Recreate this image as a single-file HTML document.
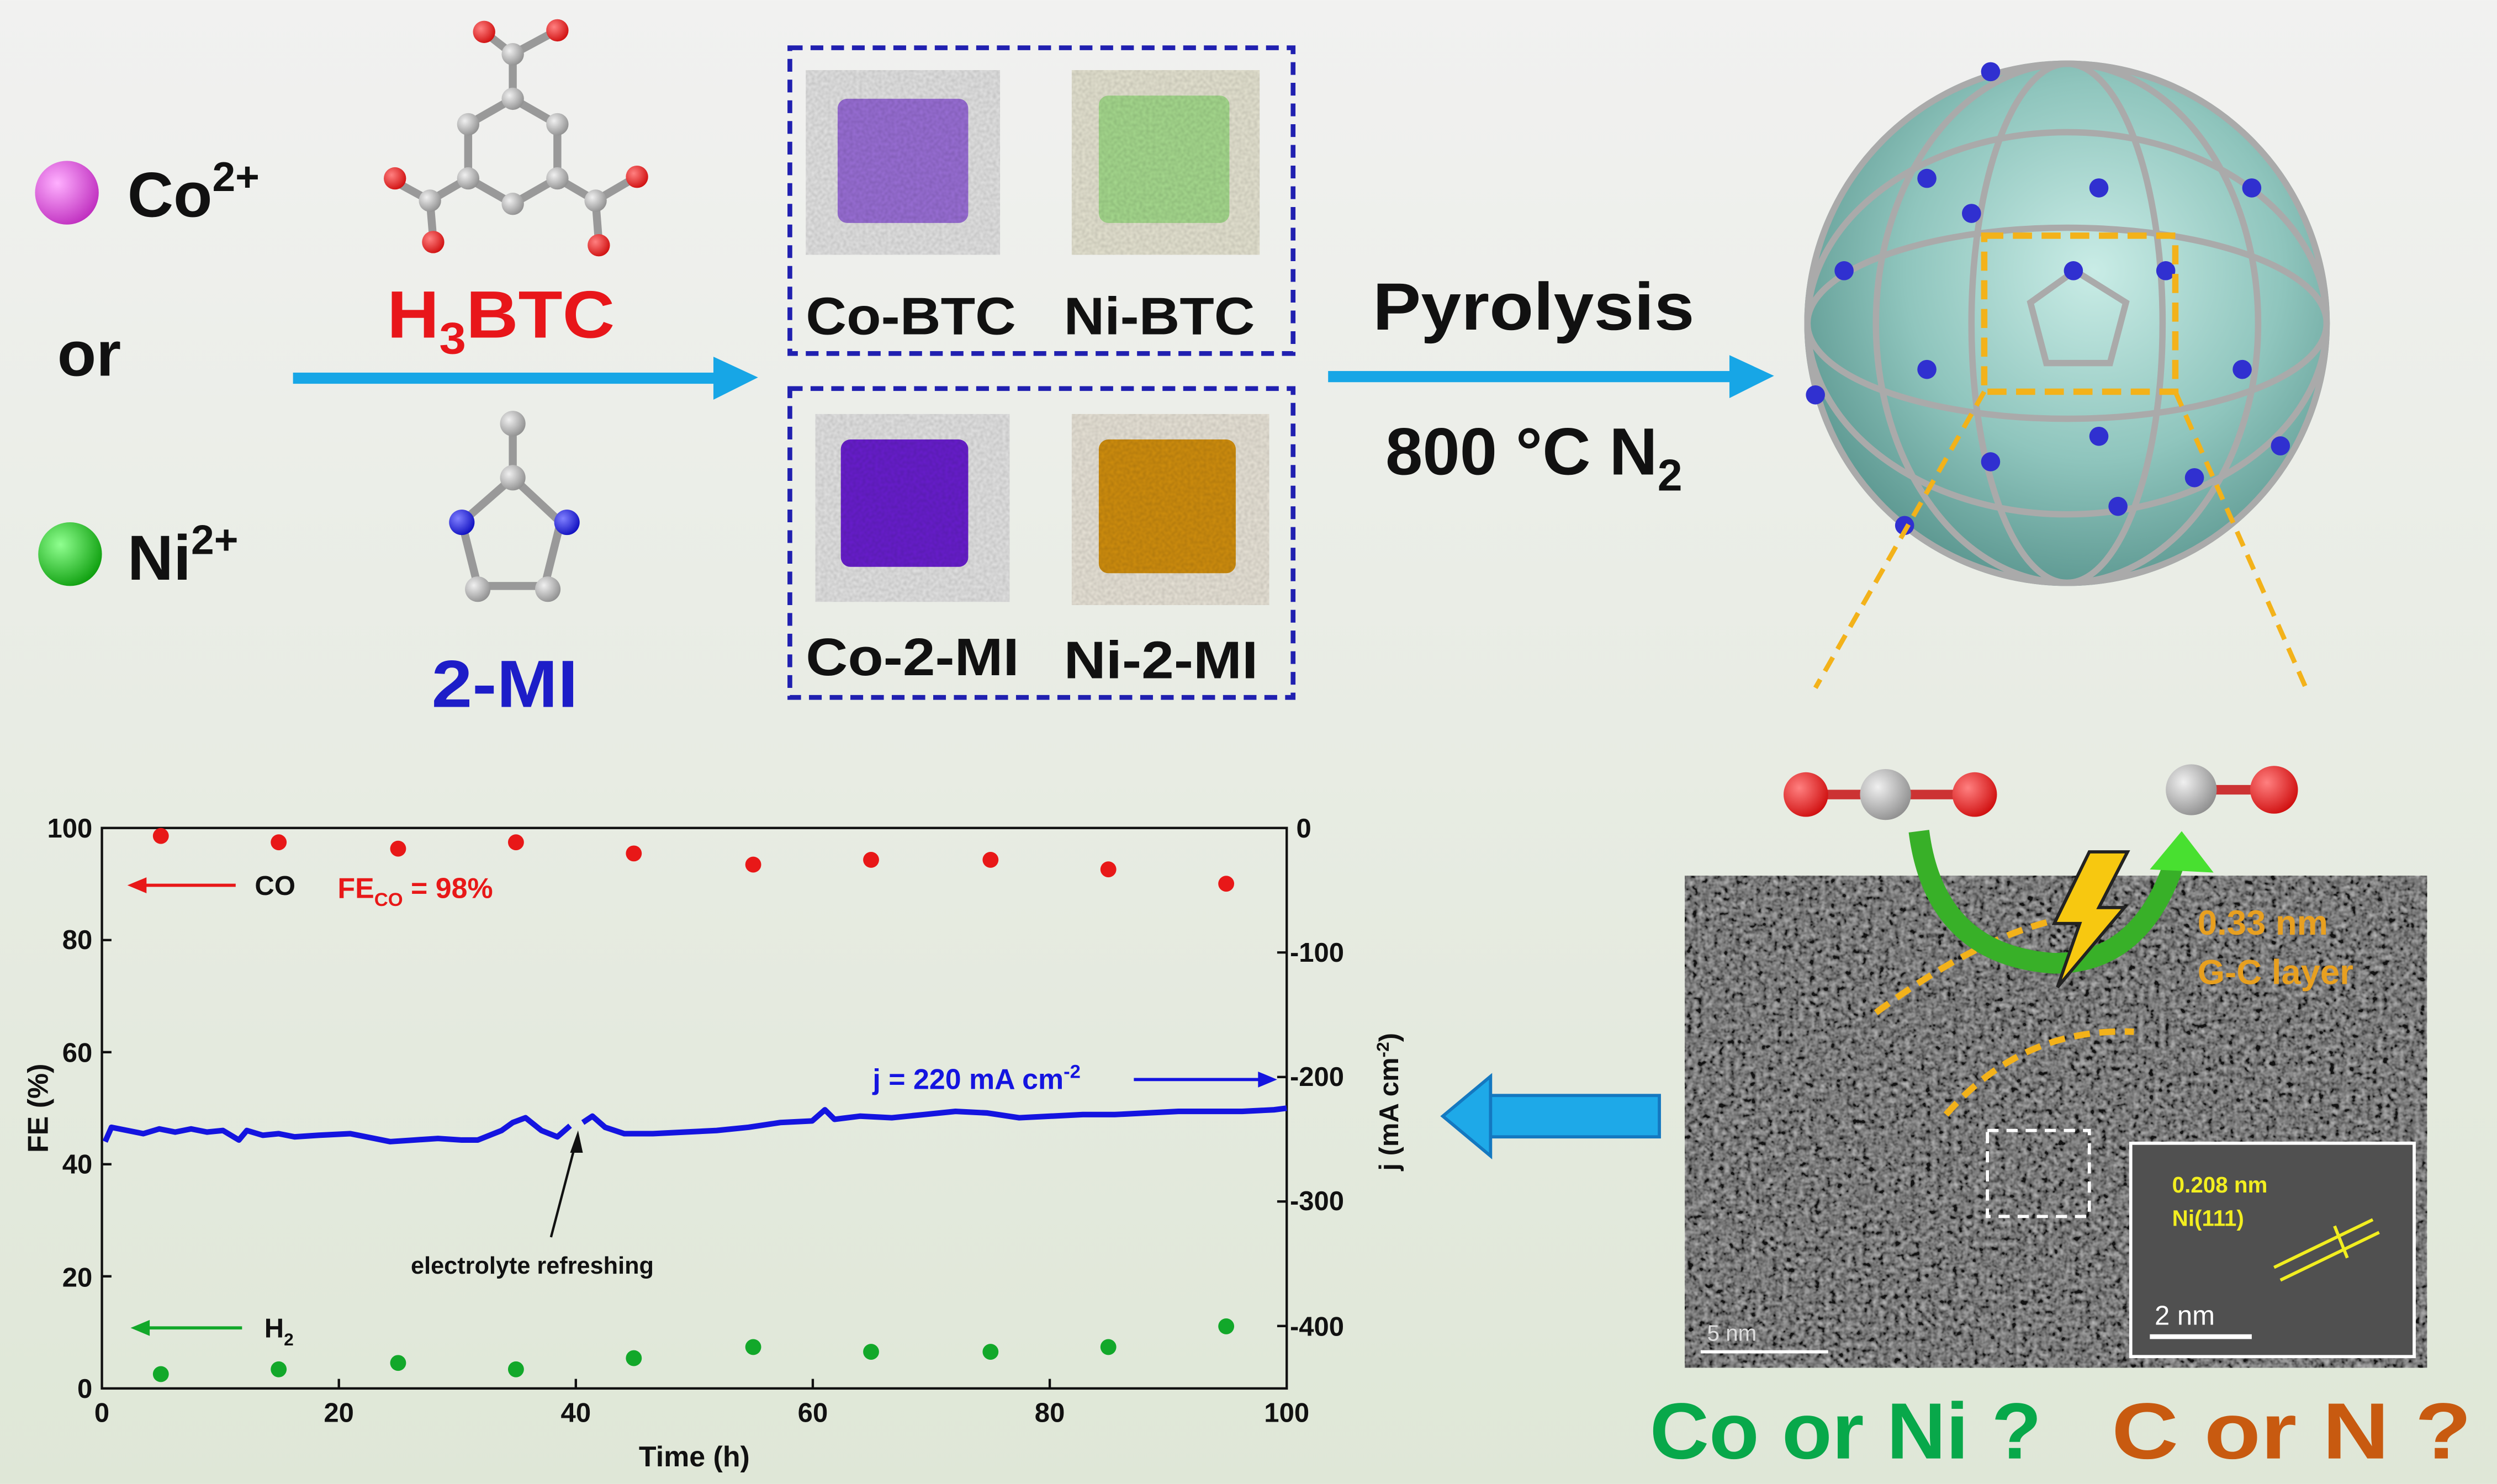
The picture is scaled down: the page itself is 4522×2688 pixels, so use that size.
<!DOCTYPE html>
<html><head><meta charset="utf-8"><style>
html,body{margin:0;padding:0;width:4522px;height:2688px;overflow:hidden}
svg{display:block}
text{font-family:"Liberation Sans",sans-serif;font-weight:bold}
</style></head><body>
<svg width="4522" height="2688" viewBox="0 0 1568 932" xmlns="http://www.w3.org/2000/svg">
<defs>
<linearGradient id="bg" x1="0" y1="0" x2="0" y2="1"><stop offset="0" stop-color="#f1f1f0"/><stop offset="1" stop-color="#dfe7d7"/></linearGradient>
<radialGradient id="sph" cx="0.55" cy="0.4" r="0.6"><stop offset="0" stop-color="#c9ece6"/><stop offset="0.6" stop-color="#8fc5bd"/><stop offset="1" stop-color="#5f9a93"/></radialGradient>
<radialGradient id="red" cx="0.35" cy="0.35" r="0.7"><stop offset="0" stop-color="#ff8080"/><stop offset="1" stop-color="#d01010"/></radialGradient>
<radialGradient id="gry" cx="0.35" cy="0.35" r="0.7"><stop offset="0" stop-color="#f0f0f0"/><stop offset="1" stop-color="#909090"/></radialGradient>
<radialGradient id="mag" cx="0.35" cy="0.35" r="0.7"><stop offset="0" stop-color="#ffb0ff"/><stop offset="1" stop-color="#c030c0"/></radialGradient>
<radialGradient id="grn" cx="0.35" cy="0.35" r="0.7"><stop offset="0" stop-color="#90ff90"/><stop offset="1" stop-color="#10a010"/></radialGradient>
<radialGradient id="blu" cx="0.35" cy="0.35" r="0.7"><stop offset="0" stop-color="#8080ff"/><stop offset="1" stop-color="#1010c0"/></radialGradient>
<filter id="noise" x="0" y="0" width="1" height="1"><feTurbulence type="fractalNoise" baseFrequency="0.3" numOctaves="2" seed="3"/><feColorMatrix type="matrix" values="0.33 0.33 0.33 0 0  0.33 0.33 0.33 0 0  0.33 0.33 0.33 0 0  0 0 0 0 1"/><feComponentTransfer><feFuncR type="linear" slope="2.4" intercept="-0.85"/><feFuncG type="linear" slope="2.4" intercept="-0.85"/><feFuncB type="linear" slope="2.4" intercept="-0.85"/></feComponentTransfer></filter>
<filter id="pn"><feTurbulence type="fractalNoise" baseFrequency="0.5" numOctaves="1" seed="5"/><feColorMatrix type="matrix" values="0 0 0 0 0 0 0 0 0 0 0 0 0 0 0 0 0 0 0.35 0"/><feComposite in2="SourceGraphic" operator="in"/><feBlend in2="SourceGraphic" mode="multiply"/></filter>
</defs>
<rect width="1568" height="932" fill="url(#bg)"/>

<circle cx="42" cy="121" r="20" fill="url(#mag)"/>
<text x="80" y="136" font-size="40" fill="#111">Co<tspan font-size="26" dy="-16">2+</tspan></text>
<text x="36" y="236" font-size="40" fill="#111">or</text>
<circle cx="44" cy="348" r="20" fill="url(#grn)"/>
<text x="80" y="364" font-size="40" fill="#111">Ni<tspan font-size="26" dy="-16">2+</tspan></text>

<g stroke="#999" stroke-width="5" fill="none">
<polygon points="322,62 350,78 350,112 322,128 294,112 294,78"/>
<line x1="322" y1="62" x2="322" y2="34"/><line x1="322" y1="34" x2="304" y2="20"/><line x1="322" y1="34" x2="348" y2="20"/>
<line x1="294" y1="112" x2="270" y2="126"/><line x1="270" y1="126" x2="248" y2="114"/><line x1="270" y1="126" x2="272" y2="150"/>
<line x1="350" y1="112" x2="374" y2="126"/><line x1="374" y1="126" x2="398" y2="112"/><line x1="374" y1="126" x2="376" y2="152"/>
</g>
<g fill="url(#gry)"><circle cx="322" cy="62" r="7"/><circle cx="350" cy="78" r="7"/><circle cx="350" cy="112" r="7"/><circle cx="322" cy="128" r="7"/><circle cx="294" cy="112" r="7"/><circle cx="294" cy="78" r="7"/><circle cx="322" cy="34" r="7"/><circle cx="270" cy="126" r="7"/><circle cx="374" cy="126" r="7"/></g>
<g fill="url(#red)"><circle cx="304" cy="20" r="7"/><circle cx="350" cy="19" r="7"/><circle cx="248" cy="112" r="7"/><circle cx="272" cy="152" r="7"/><circle cx="400" cy="111" r="7"/><circle cx="376" cy="154" r="7"/></g>
<text x="243" y="212" font-size="42" fill="#e8161a" textLength="143" lengthAdjust="spacingAndGlyphs">H<tspan font-size="28" dy="10">3</tspan><tspan dy="-10">BTC</tspan></text>
<rect x="184" y="234" width="266" height="7" fill="#17a6e6"/><polygon points="448,224 476,237 448,251" fill="#17a6e6"/>
<g stroke="#999" stroke-width="5" fill="none"><line x1="322" y1="266" x2="322" y2="300"/><polygon points="322,300 352,328 342,368 300,368 290,328"/></g>
<circle cx="322" cy="266" r="8" fill="url(#gry)"/><circle cx="322" cy="300" r="8" fill="url(#gry)"/>
<circle cx="290" cy="328" r="8" fill="url(#blu)"/><circle cx="356" cy="328" r="8" fill="url(#blu)"/>
<circle cx="300" cy="370" r="8" fill="url(#gry)"/><circle cx="344" cy="370" r="8" fill="url(#gry)"/>
<text x="271" y="444" font-size="42" fill="#1d1dc8" textLength="92" lengthAdjust="spacingAndGlyphs">2-MI</text>

<rect x="496" y="30" width="316" height="192" fill="none" stroke="#2020b0" stroke-width="3" stroke-dasharray="8,5"/>
<rect x="496" y="244" width="316" height="194" fill="none" stroke="#2020b0" stroke-width="3" stroke-dasharray="8,5"/>
<g filter="url(#pn)">
<rect x="506" y="44" width="122" height="116" fill="#e6e6e6"/><rect x="526" y="62" width="82" height="78" rx="6" fill="#9b70d8"/>
<rect x="673" y="44" width="118" height="116" fill="#e8e6d4"/><rect x="690" y="60" width="82" height="80" rx="6" fill="#a8dc90"/>
<rect x="512" y="260" width="122" height="118" fill="#e6e6e6"/><rect x="528" y="276" width="80" height="80" rx="6" fill="#6a1fd0"/>
<rect x="673" y="260" width="124" height="120" fill="#ebe6da"/><rect x="690" y="276" width="86" height="84" rx="6" fill="#d2900e"/>
</g>
<text x="506" y="210" font-size="33" fill="#111" textLength="132" lengthAdjust="spacingAndGlyphs">Co-BTC</text><text x="668" y="210" font-size="33" fill="#111" textLength="120" lengthAdjust="spacingAndGlyphs">Ni-BTC</text>
<text x="506" y="424" font-size="33" fill="#111" textLength="134" lengthAdjust="spacingAndGlyphs">Co-2-MI</text><text x="668" y="426" font-size="33" fill="#111" textLength="122" lengthAdjust="spacingAndGlyphs">Ni-2-MI</text>

<text x="862" y="207" font-size="42" fill="#111" textLength="202" lengthAdjust="spacingAndGlyphs">Pyrolysis</text>
<rect x="834" y="233" width="256" height="7" fill="#17a6e6"/><polygon points="1086,223 1114,236 1086,250" fill="#17a6e6"/>
<text x="870" y="298" font-size="42" fill="#111">800 °C N<tspan font-size="28" dy="10">2</tspan></text>

<circle cx="1298" cy="203" r="165" fill="url(#sph)"/>
<g fill="none" stroke="#aaa" stroke-width="4">
<circle cx="1298" cy="203" r="163"/>
<ellipse cx="1298" cy="203" rx="163" ry="60"/><ellipse cx="1298" cy="203" rx="163" ry="120"/>
<ellipse cx="1298" cy="203" rx="60" ry="163"/><ellipse cx="1298" cy="203" rx="120" ry="163"/>
<polygon points="1303,170 1335,190 1325,228 1285,228 1275,190"/>
</g>
<g fill="#3030d0">
<circle cx="1250" cy="45" r="6"/><circle cx="1318" cy="118" r="6"/><circle cx="1414" cy="118" r="6"/><circle cx="1158" cy="170" r="6"/><circle cx="1302" cy="170" r="6"/><circle cx="1238" cy="134" r="6"/><circle cx="1408" cy="232" r="6"/><circle cx="1140" cy="248" r="6"/><circle cx="1210" cy="232" r="6"/><circle cx="1318" cy="274" r="6"/><circle cx="1250" cy="290" r="6"/><circle cx="1378" cy="300" r="6"/><circle cx="1330" cy="318" r="6"/><circle cx="1196" cy="330" r="6"/><circle cx="1432" cy="280" r="6"/><circle cx="1210" cy="112" r="6"/><circle cx="1360" cy="170" r="6"/>
</g>
<rect x="1246" y="148" width="120" height="98" fill="none" stroke="#f3b21a" stroke-width="4" stroke-dasharray="12,6"/>
<line x1="1246" y1="246" x2="1140" y2="432" stroke="#f3b21a" stroke-width="3" stroke-dasharray="10,6"/>
<line x1="1366" y1="246" x2="1448" y2="432" stroke="#f3b21a" stroke-width="3" stroke-dasharray="10,6"/>

<rect x="1058" y="550" width="466" height="309" fill="#555" filter="url(#noise)"/>
<rect x="1058" y="550" width="466" height="309" fill="#333" opacity="0.35"/>
<g fill="none" stroke="#f3b21a" stroke-width="4" stroke-dasharray="10,6">
<path d="M1178,636 Q1240,590 1290,578"/><path d="M1222,700 Q1270,645 1340,648"/></g>
<rect x="1248" y="710" width="64" height="54" fill="none" stroke="#fff" stroke-width="2" stroke-dasharray="7,5"/>
<rect x="1338" y="718" width="178" height="134" fill="#505050" stroke="#fff" stroke-width="2"/>
<text x="1364" y="749" font-size="14" fill="#f2ee20">0.208 nm</text><text x="1364" y="770" font-size="14" fill="#f2ee20">Ni(111)</text>
<g stroke="#f2ee20" stroke-width="2"><line x1="1428" y1="796" x2="1490" y2="766"/><line x1="1432" y1="804" x2="1494" y2="774"/><line x1="1466" y1="770" x2="1474" y2="790"/></g>
<text x="1353" y="832" font-size="17" fill="#fff" style="font-weight:normal">2 nm</text>
<rect x="1350" y="838" width="64" height="3" fill="#fff"/>
<text x="1072" y="842" font-size="14" fill="#ddd" style="font-weight:normal">5 nm</text><rect x="1068" y="848" width="80" height="2" fill="#fff"/>
<text x="1380" y="587" font-size="22" fill="#e8a020">0.33 nm</text><text x="1380" y="618" font-size="22" fill="#e8a020">G-C layer</text>
<path d="M1205,522 Q1215,600 1290,605 Q1345,605 1366,540" fill="none" stroke="#38b028" stroke-width="13"/>
<polygon points="1350,546 1370,522 1390,548" fill="#48e030"/>
<polygon points="1312,535 1336,535 1318,570 1334,570 1292,620 1306,580 1290,580" fill="#f7c810" stroke="#222" stroke-width="2"/>
<rect x="1134" y="496" width="110" height="6" fill="#c33"/>
<circle cx="1134" cy="499" r="14" fill="url(#red)"/><circle cx="1184" cy="499" r="16" fill="url(#gry)"/><circle cx="1240" cy="499" r="14" fill="url(#red)"/>
<rect x="1374" y="493" width="60" height="6" fill="#c33"/>
<circle cx="1376" cy="496" r="16" fill="url(#gry)"/><circle cx="1428" cy="496" r="15" fill="url(#red)"/>
<text x="1036" y="916" font-size="50" fill="#08a84a" textLength="246" lengthAdjust="spacingAndGlyphs">Co or Ni ?</text>
<text x="1326" y="916" font-size="50" fill="#c85a10" textLength="226" lengthAdjust="spacingAndGlyphs">C or N ?</text>
<rect x="934" y="688" width="108" height="26" fill="#1ea9e8" stroke="#1478c0" stroke-width="2"/>
<polygon points="936,676 906,701 936,726" fill="#1ea9e8" stroke="#1478c0" stroke-width="2"/>

<g font-size="17" fill="#111" style="font-weight:normal">
<rect x="64" y="520" width="744" height="352" fill="none" stroke="#111" stroke-width="1.5"/>
<g stroke="#111" stroke-width="1.5">
<line x1="64" y1="801.6" x2="70" y2="801.6"/><line x1="64" y1="731.2" x2="70" y2="731.2"/><line x1="64" y1="660.8" x2="70" y2="660.8"/><line x1="64" y1="590.4" x2="70" y2="590.4"/>
<line x1="212.8" y1="872" x2="212.8" y2="866"/><line x1="361.6" y1="872" x2="361.6" y2="866"/><line x1="510.4" y1="872" x2="510.4" y2="866"/><line x1="659.2" y1="872" x2="659.2" y2="866"/>
<line x1="808" y1="598.2" x2="802" y2="598.2"/><line x1="808" y1="676.4" x2="802" y2="676.4"/><line x1="808" y1="754.6" x2="802" y2="754.6"/><line x1="808" y1="832.8" x2="802" y2="832.8"/>
</g>
<g text-anchor="end"><text x="58" y="878">0</text><text x="58" y="808">20</text><text x="58" y="737">40</text><text x="58" y="667">60</text><text x="58" y="596">80</text><text x="58" y="526">100</text></g>
<g text-anchor="middle"><text x="64" y="893">0</text><text x="212.8" y="893">20</text><text x="361.6" y="893">40</text><text x="510.4" y="893">60</text><text x="659.2" y="893">80</text><text x="808" y="893">100</text></g>
<text x="814" y="526">0</text><text x="810" y="604">-100</text><text x="810" y="682">-200</text><text x="810" y="760">-300</text><text x="810" y="839">-400</text>
</g>
<text x="436" y="921" font-size="18" text-anchor="middle" fill="#111">Time (h)</text>
<text transform="translate(30,696) rotate(-90)" font-size="18" text-anchor="middle" fill="#111">FE (%)</text>
<text transform="translate(878,692) rotate(-90)" font-size="17" text-anchor="middle" fill="#111">j (mA cm<tspan font-size="11" dy="-6">-2</tspan><tspan dy="6">)</tspan></text>
<g fill="#e81818"><circle cx="101" cy="525" r="5"/><circle cx="175" cy="529" r="5"/><circle cx="250" cy="533" r="5"/><circle cx="324" cy="529" r="5"/><circle cx="398" cy="536" r="5"/><circle cx="473" cy="543" r="5"/><circle cx="547" cy="540" r="5"/><circle cx="622" cy="540" r="5"/><circle cx="696" cy="546" r="5"/><circle cx="770" cy="555" r="5"/></g>
<g fill="#12a82a"><circle cx="101" cy="863" r="5"/><circle cx="175" cy="860" r="5"/><circle cx="250" cy="856" r="5"/><circle cx="324" cy="860" r="5"/><circle cx="398" cy="853" r="5"/><circle cx="473" cy="846" r="5"/><circle cx="547" cy="849" r="5"/><circle cx="622" cy="849" r="5"/><circle cx="696" cy="846" r="5"/><circle cx="770" cy="833" r="5"/></g>
<g fill="none" stroke="#1414e0" stroke-width="3.5" stroke-linejoin="round">
<polyline points="66,717 70,708 80,710 90,712 100,709 110,711 120,709 130,711 140,710 150,716 155,710 165,713 175,712 185,714 200,713 220,712 235,715 245,717 260,716 275,715 290,716 300,716 310,712 315,710 322,705 330,702 340,710 350,714 358,707"/>
<polyline points="366,705 372,701 380,708 392,712 410,712 430,711 450,710 470,708 490,705 510,704 518,697 524,703 540,701 560,702 580,700 600,698 620,699 640,702 660,701 680,700 700,700 720,699 740,698 760,698 780,698 800,697 808,696"/>
</g>
<g stroke="#e81818" stroke-width="2"><line x1="90" y1="556" x2="148" y2="556"/></g><polygon points="80,556 92,551 92,561" fill="#e81818"/>
<text x="160" y="562" font-size="17" fill="#111">CO</text>
<text x="212" y="564" font-size="18" fill="#e81818">FE<tspan font-size="12" dy="5">CO</tspan><tspan dy="-5"> = 98%</tspan></text>
<g stroke="#12a82a" stroke-width="2"><line x1="92" y1="834" x2="152" y2="834"/></g><polygon points="82,834 94,829 94,839" fill="#12a82a"/>
<text x="166" y="840" font-size="17" fill="#111">H<tspan font-size="11" dy="5">2</tspan></text>
<text x="548" y="684" font-size="18" fill="#1414e0">j = 220 mA cm<tspan font-size="12" dy="-7">-2</tspan></text>
<line x1="712" y1="678" x2="792" y2="678" stroke="#1414e0" stroke-width="2"/><polygon points="802,678 790,673 790,683" fill="#1414e0"/>
<line x1="346" y1="777" x2="362" y2="716" stroke="#111" stroke-width="1.5"/><polygon points="363,710 358,724 366,724" fill="#111"/>
<text x="258" y="800" font-size="15" fill="#111">electrolyte refreshing</text>
</svg>
</body></html>
